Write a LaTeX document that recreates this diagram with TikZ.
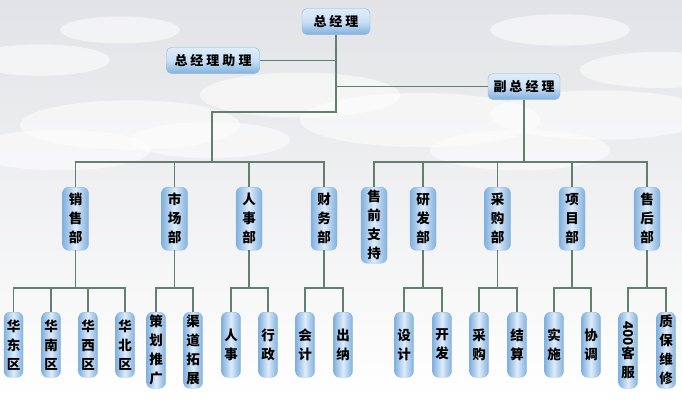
\documentclass[tikz,border=0pt]{standalone}
\usepackage{fontspec}
\newfontfamily\cjk{Noto Sans CJK SC}
\usetikzlibrary{calc}
\definecolor{linkgreen}{RGB}{98,128,112}
\definecolor{boxdark}{RGB}{128,176,222}
\definecolor{boxlight}{RGB}{222,236,250}
\definecolor{boxedge}{RGB}{140,184,226}
\definecolor{skygray}{RGB}{226,227,230}
\newcommand{\kgap}{\hspace{3pt}}

\begin{document}
\begin{tikzpicture}[
    x=1pt, y=-1pt,
    hbox/.style={draw=boxedge, rounded corners=5pt, top color=boxlight, bottom color=boxdark, middle color=boxlight!80!boxdark, minimum height=26pt, inner sep=2pt, font=\cjk\bfseries\fontsize{13}{14}\selectfont},
    vbox/.style={draw=boxedge, rounded corners=6pt, left color=boxdark, right color=boxdark, middle color=boxlight, anchor=north, align=center, inner sep=1pt, font=\cjk\bfseries\fontsize{13.5}{19}\selectfont},
    dept/.style={vbox, minimum width=26pt, minimum height=63pt},
    leaf/.style={vbox, minimum width=19pt, minimum height=65pt},
    tall/.style={minimum height=76pt},
    link/.style={draw=linkgreen, line width=1.3pt}
]
\useasboundingbox (0,0) rectangle (682,400);
\fill[top color=skygray, bottom color=white] (0,0) rectangle (682,400);
\foreach \cx/\cy/\r in {60/150/45, 130/125/55, 210/140/40, 300/95/50, 420/120/60, 520/150/45, 600/115/55, 660/70/40, 40/60/35, 120/30/30, 560/30/35}
  \fill[white, opacity=.55] (\cx,\cy) ellipse [x radius=\r*2pt, y radius=\r*0.45pt];

\node[hbox, minimum width=68pt] (gm) at (336,21.5) {总\kgap 经\kgap 理};
\node[hbox, minimum width=93pt] (asst) at (213,60.5) {总\kgap 经\kgap 理\kgap 助\kgap 理};
\node[hbox, minimum width=72pt] (vgm) at (524,86.5) {副\kgap 总\kgap 经\kgap 理};

\node[dept] (sales) at (75.5,187) {销\\售\\部};
\node[dept] (market) at (174.5,187) {市\\场\\部};
\node[dept] (hr) at (249,187) {人\\事\\部};
\node[dept] (fin) at (324,187) {财\\务\\部};
\node[dept, tall] (presale) at (374,187) {售\\前\\支\\持};
\node[dept] (rd) at (423,187) {研\\发\\部};
\node[dept] (purch) at (497.5,187) {采\\购\\部};
\node[dept] (proj) at (572,187) {项\\目\\部};
\node[dept] (after) at (647,187) {售\\后\\部};

\node[leaf] (huadong) at (13.5,312) {华\\东\\区};
\node[leaf] (huanan) at (51,312) {华\\南\\区};
\node[leaf] (huaxi) at (88,312) {华\\西\\区};
\node[leaf] (huabei) at (125,312) {华\\北\\区};
\node[leaf, tall] (plan) at (156,312) {策\\划\\推\\广};
\node[leaf, tall] (channel) at (193,312) {渠\\道\\拓\\展};
\node[leaf] (staff) at (231,312) {人\\事};
\node[leaf] (admin) at (268,312) {行\\政};
\node[leaf] (acct) at (305,312) {会\\计};
\node[leaf] (cash) at (343,312) {出\\纳};
\node[leaf] (design) at (404,312) {设\\计};
\node[leaf] (dev) at (442,312) {开\\发};
\node[leaf] (buy) at (479,312) {采\\购};
\node[leaf] (settle) at (517,312) {结\\算};
\node[leaf] (impl) at (554,312) {实\\施};
\node[leaf] (coord) at (591,312) {协\\调};
\node[leaf, tall] (service) at (628,312) {\rotatebox[origin=c]{-90}{400}\\客\\服};
\node[leaf, tall] (repair) at (666,312) {质\\保\\维\\修};

\coordinate (trunk) at (336,112);
\coordinate (lbus) at (212,162);
\coordinate (rbus) at (vgm.south |- lbus);
\coordinate (leafrow) at (0,288);

\draw[link] (gm.south) |- (asst.east);
\draw[link] (gm.south) |- (vgm.west);
\draw[link] (gm.south) -- (trunk) -| (lbus);
\draw[link] (vgm.south) -- (rbus);
\foreach \d in {sales,market,hr,fin}
  \draw[link] (lbus) -| (\d.north);
\foreach \d in {presale,rd,purch,proj,after}
  \draw[link] (rbus) -| (\d.north);
\foreach \d/\kids in {sales/{huadong,huanan,huaxi,huabei}, market/{plan,channel}, hr/{staff,admin}, fin/{acct,cash}, rd/{design,dev}, purch/{buy,settle}, proj/{impl,coord}, after/{service,repair}} {
  \coordinate (\d-bus) at (\d.south |- leafrow);
  \draw[link] (\d.south) -- (\d-bus);
  \foreach \k in \kids
    \draw[link] (\d-bus) -| (\k.north);
}
\end{tikzpicture}
\end{document}
